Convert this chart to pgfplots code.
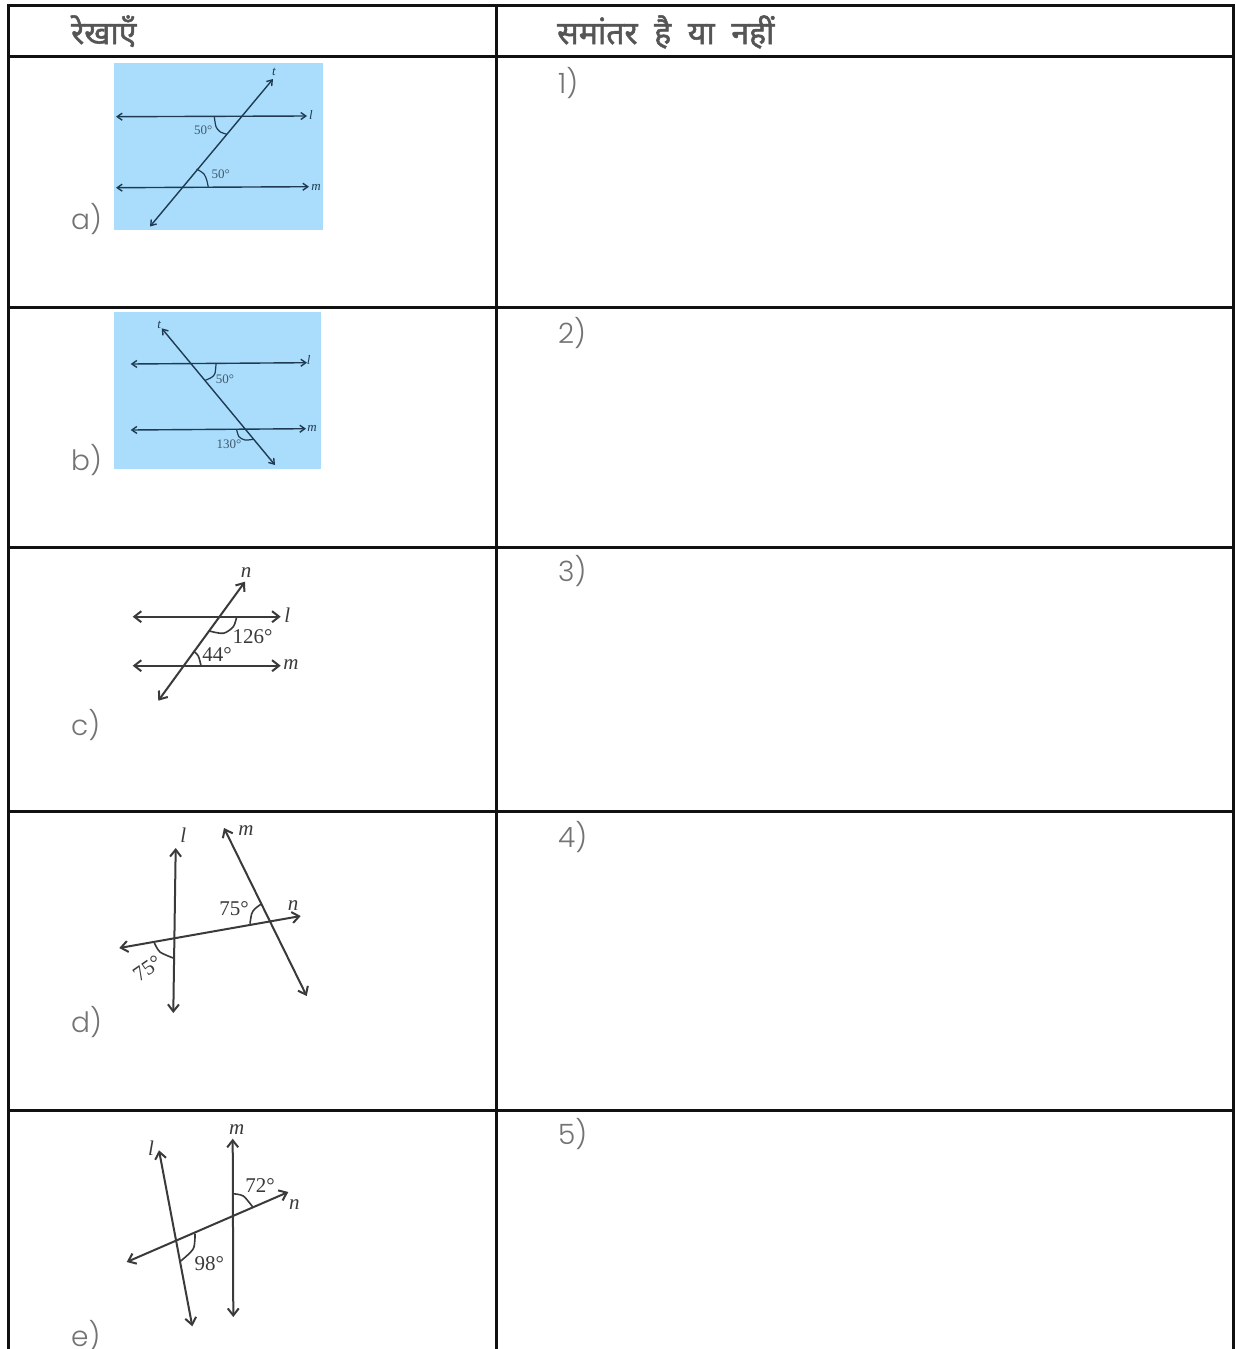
\documentclass[border=0pt]{standalone}
\usepackage{fontspec}
\usepackage{pgfplots}
\pgfplotsset{compat=1.18}
\usetikzlibrary{arrows.meta}
\setmainfont{Poppins}[UprightFont=* Light]
\newfontfamily\hindi[Script=Devanagari,FakeBold=1.6,WordSpace=2]{Noto Sans}
\newfontfamily\geo{Liberation Serif}
\definecolor{rule}{HTML}{111111}
\definecolor{headtxt}{HTML}{555555}
\definecolor{celltxt}{HTML}{737373}
\definecolor{panel}{HTML}{A9DDFB}
\definecolor{navy}{HTML}{1F3B54}
\definecolor{ink}{HTML}{3A3A3A}
\tikzset{
    rulel/.style={draw=rule, line width=3pt, mark=none},
    arrA/.style={draw=navy, line width=1.4pt, mark=none, {Straight Barb[length=5pt,width=7pt]}-{Straight Barb[length=5pt,width=7pt]}},
    arcA/.style={draw=navy, line width=1.2pt, mark=none, smooth},
    arrC/.style={draw=ink, line width=2pt, mark=none, {Straight Barb[length=7pt,width=11pt]}-{Straight Barb[length=7pt,width=11pt]}},
    arcC/.style={draw=ink, line width=1.6pt, mark=none, smooth},
    head/.style={anchor=base west, inner sep=0pt, text=headtxt, font=\hindi\fontsize{32}{32}\selectfont},
    cell/.style={anchor=base west, inner sep=0pt, text=celltxt, font=\fontsize{28}{28}\selectfont},
    smA/.style={inner sep=0pt, text=navy!85!white, font=\geo\fontsize{13}{13}\selectfont},
    smL/.style={inner sep=0pt, text=navy, font=\geo\itshape\fontsize{13}{13}\selectfont},
    bgA/.style={inner sep=0pt, text=ink, font=\geo\fontsize{21}{21}\selectfont},
    bgL/.style={inner sep=0pt, text=ink, font=\geo\itshape\fontsize{21}{21}\selectfont},
}
% table rules, then each figure's lines and angle arcs, all in image pixels
\begin{document}
\begin{tikzpicture}
\begin{axis}[
    scale only axis,
    width=1236pt, height=1349pt,
    xmin=0, xmax=1236, ymin=0, ymax=1349,
    y dir=reverse,
    hide axis,
    clip=true,
]
% page background, also holds the bounding box at the full size
\addplot[fill=white, draw=none, mark=none] coordinates {(0,0) (1236,0) (1236,1349) (0,1349)} --cycle;
% blue panels
\addplot[fill=panel, draw=none, mark=none] coordinates {(114,63) (323,63) (323,230) (114,230)} --cycle;
\addplot[fill=panel, draw=none, mark=none] coordinates {(114,312.3) (321,312.3) (321,468.7) (114,468.7)} --cycle;

% table rules
\addplot[rulel] coordinates {(7,5) (1234,5)};
\addplot[rulel] coordinates {(7,56) (1234,56)};
\addplot[rulel] coordinates {(7,307) (1234,307)};
\addplot[rulel] coordinates {(7,547) (1234,547)};
\addplot[rulel] coordinates {(7,811) (1234,811)};
\addplot[rulel] coordinates {(7,1110) (1234,1110)};
\addplot[rulel] coordinates {(8,4) (8,1349)};
\addplot[rulel] coordinates {(496,4) (496,1349)};
\addplot[rulel] coordinates {(1233,4) (1233,1349)};

% figure a
\addplot[arrA] coordinates {(116,116.7) (307,116)};
\addplot[arrA] coordinates {(116,187.7) (309,186.7)};
\addplot[arrA] coordinates {(150,226.5) (273,79)};
\addplot[arcA] coordinates {(214.3,116.7) (216,126.7) (220,131.7) (226.7,134.3)};
\addplot[arcA] coordinates {(196.7,169) (204,174) (207,181) (208.3,187.7)};
\node[smA] at (axis cs:203.3,130.7) {50°};
\node[smA] at (axis cs:220.7,174.3) {50°};
\node[smL] at (axis cs:311,115) {l};
\node[smL] at (axis cs:316,187) {m};
\node[smL] at (axis cs:274,72) {t};

% figure b
\addplot[arrA] coordinates {(130.7,364) (307,362.7)};
\addplot[arrA] coordinates {(130.7,430) (306,428.7)};
\addplot[arrA] coordinates {(161.7,328.3) (275,465)};
\addplot[arcA] coordinates {(216,364) (215,373.3) (211.7,377.3) (205.3,380.3)};
\addplot[arcA] coordinates {(236.7,430) (239,436.7) (245,440) (253.3,439.3)};
\node[smA] at (axis cs:225,379) {50°};
\node[smA] at (axis cs:229,444.3) {130°};
\node[smL] at (axis cs:308.7,360) {l};
\node[smL] at (axis cs:312,428.7) {m};
\node[smL] at (axis cs:159.3,325) {t};

% figure c
\addplot[arrC] coordinates {(132.7,616.7) (280.7,616.7)};
\addplot[arrC] coordinates {(132.7,665.7) (280.7,665.7)};
\addplot[arrC] coordinates {(158.3,700.7) (245,581.7)};
\addplot[arcC] coordinates {(236.7,616.7) (233.3,626.7) (223.3,633.3) (209.3,631)};
\addplot[arcC] coordinates {(193.3,651) (198.3,656) (201,665.7)};
\node[bgA] at (axis cs:252.5,636.7) {126°};
\node[bgA] at (axis cs:217,654.3) {44°};
\node[bgL] at (axis cs:246,572.5) {n};
\node[bgL] at (axis cs:287.3,615.7) {l};
\node[bgL] at (axis cs:291,665) {m};

% figure d
\addplot[arrC] coordinates {(175.7,848) (173.3,1013)};
\addplot[arrC] coordinates {(224,828) (306.7,996)};
\addplot[arrC] coordinates {(119.3,948) (300.7,916)};
\addplot[arcC] coordinates {(250,923.7) (251.7,913.7) (255,908.7) (261.7,903.7)};
\addplot[arcC] coordinates {(154.3,942.7) (160,952) (173.3,958)};
\node[bgA] at (axis cs:234,908.7) {75°};
\node[bgA, rotate=35] at (axis cs:147.3,968.7) {75°};
\node[bgL] at (axis cs:183.3,835.3) {l};
\node[bgL] at (axis cs:246,830.3) {m};
\node[bgL] at (axis cs:293,905.5) {n};

% figure e
\addplot[arrC] coordinates {(159,1150.3) (192.3,1326.3)};
\addplot[arrC] coordinates {(232.7,1138.7) (233.3,1317)};
\addplot[arrC] coordinates {(126.7,1262) (288.3,1192)};
\addplot[arcC] coordinates {(232.7,1193.7) (243.3,1196) (252.7,1207)};
\addplot[arcC] coordinates {(195,1233.7) (193.3,1248.7) (180.7,1261)};
\node[bgA] at (axis cs:260,1186) {72°};
\node[bgA] at (axis cs:209.3,1263.7) {98°};
\node[bgL] at (axis cs:151,1148) {l};
\node[bgL] at (axis cs:236.7,1130) {m};
\node[bgL] at (axis cs:294.3,1204.7) {n};

% table text
\node[head] at (axis cs:71,44) {रेखाएँ};
\node[head] at (axis cs:557,44) {समांतर है या नहीं};
\node[cell] at (axis cs:71,229) {a)};
\node[cell] at (axis cs:71,470) {b)};
\node[cell] at (axis cs:71,735) {c)};
\node[cell] at (axis cs:71,1032) {d)};
\node[cell] at (axis cs:71,1346) {e)};
\node[cell] at (axis cs:558,93) {1)};
\node[cell] at (axis cs:558,343) {2)};
\node[cell] at (axis cs:558,581) {3)};
\node[cell] at (axis cs:558,847) {4)};
\node[cell] at (axis cs:558,1144) {5)};
\end{axis}
\end{tikzpicture}
\end{document}
